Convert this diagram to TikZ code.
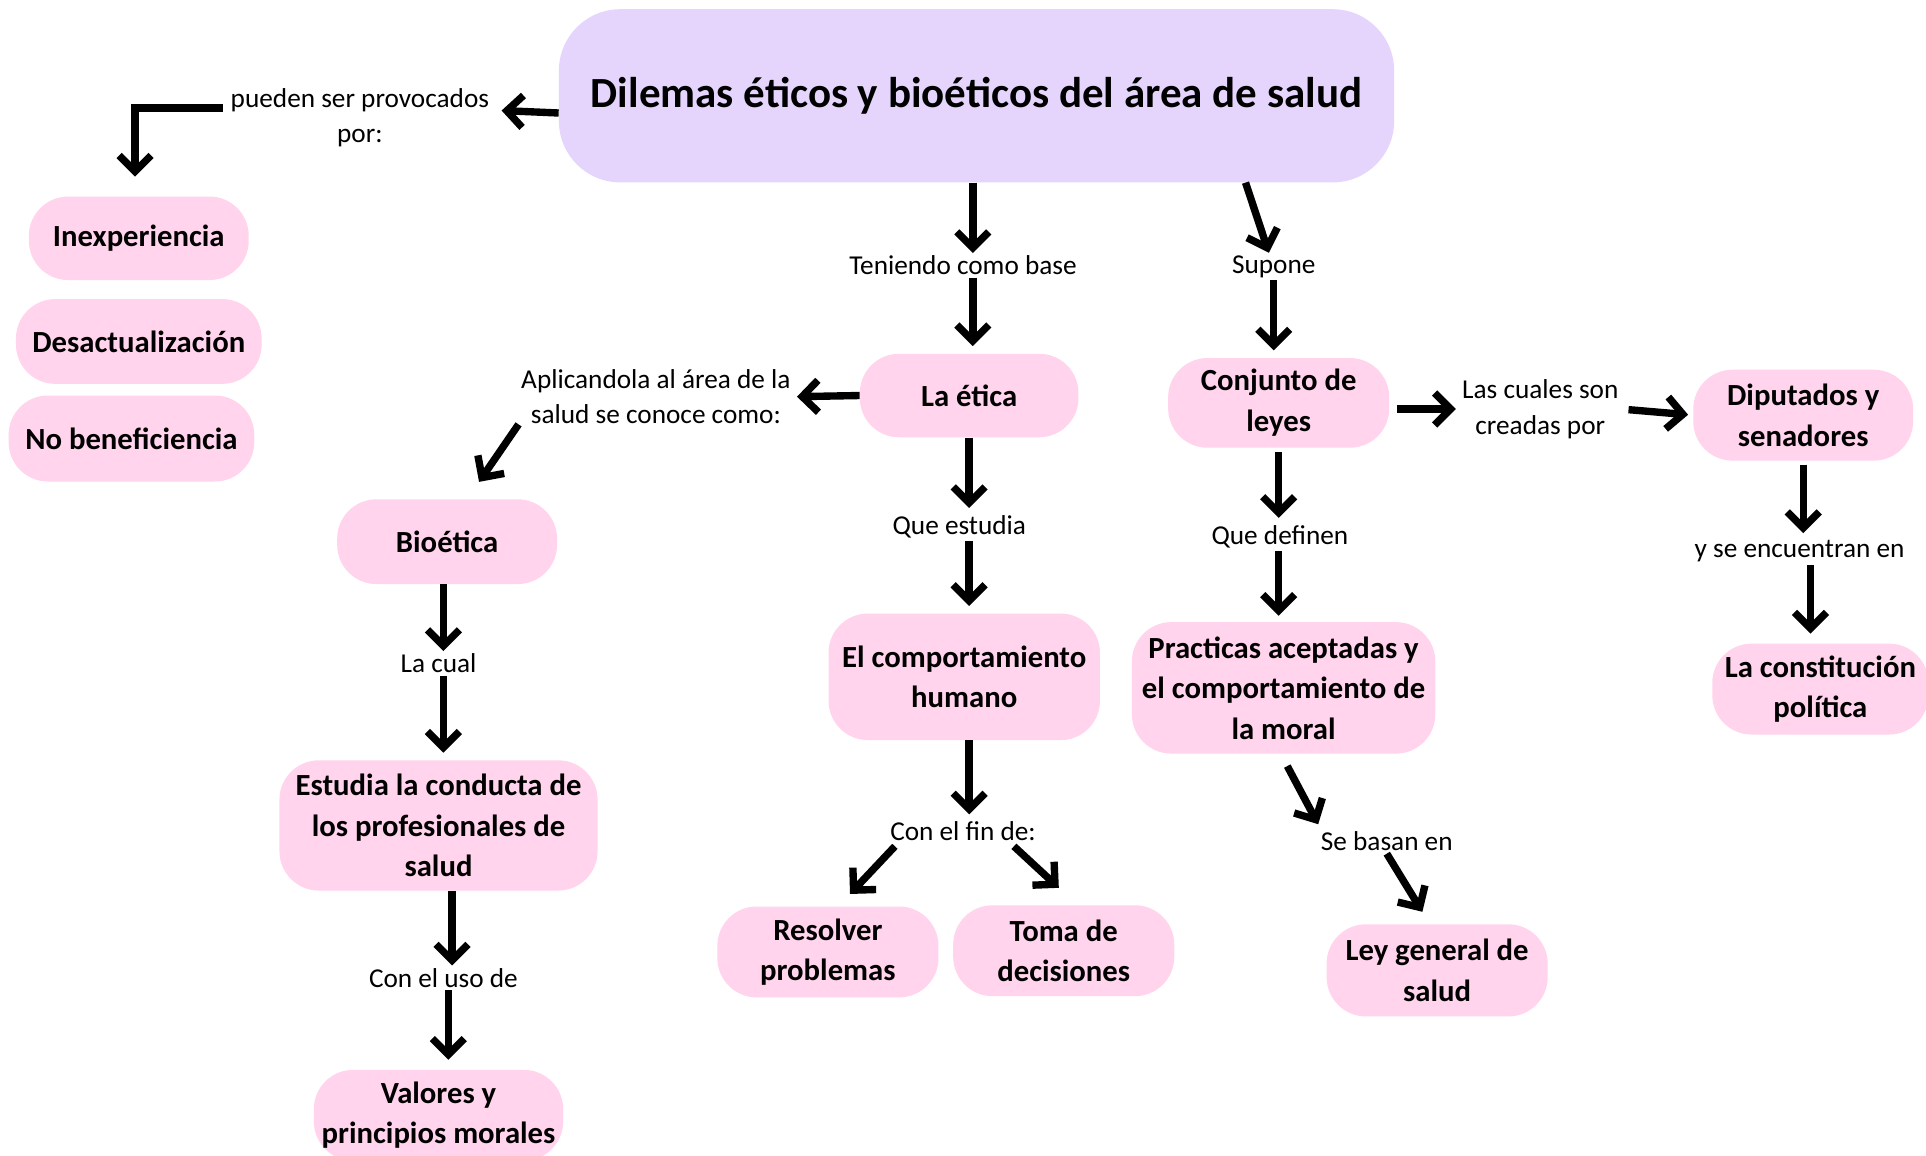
\documentclass[tikz,border=0pt]{standalone}
\usepackage{fontspec}
\setmainfont{Carlito}
\usetikzlibrary{arrows.meta,calc}
\definecolor{rosa}{HTML}{FFD4EC}
\definecolor{lila}{HTML}{E5D5FD}

\begin{document}
\begin{tikzpicture}[x=1pt,y=-1pt]
        \tikzstyle{box}=[fill=rosa, rounded corners=32pt, align=center, inner sep=2pt, font=\fontsize{25}{33}\selectfont\bfseries]
        \tikzstyle{lbl}=[align=center, inner sep=2pt, font=\fontsize{22.2}{29}\selectfont]
        \tikzstyle{arr}=[line width=6pt, -{Straight Barb[length=13pt,width=26pt]}]

        \path[use as bounding box, fill=white] (0,0) rectangle (1568,941);

        \node[box, fill=lila, rounded corners=50pt, minimum width=680pt, minimum height=141pt, font=\fontsize{35}{40}\selectfont\bfseries] (dil) at (795,78) {Dilemas éticos y bioéticos del área de salud};

        \node[box, minimum width=179pt, minimum height=68pt] (inexp)   at (113,194) {Inexperiencia};
        \node[box, minimum width=200pt, minimum height=69pt] (desact)  at (113,278) {Desactualización};
        \node[box, minimum width=200pt, minimum height=70pt] (nobenef) at (107,357) {No beneficiencia};

        \node[box, minimum width=178pt, minimum height=68pt]  (etica)   at (789,322) {La ética};
        \node[box, minimum width=179pt, minimum height=69pt]  (bioet)   at (364,441) {Bioética};
        \node[box, minimum width=259pt, minimum height=106pt] (estudia) at (357,672) {Estudia la conducta de\\los profesionales de\\salud};
        \node[box, minimum width=203pt, minimum height=74pt]  (valores) at (357,908) {Valores y\\principios morales};
        \node[box, minimum width=221pt, minimum height=103pt] (comport) at (785,551) {El comportamiento\\humano};
        \node[box, minimum width=180pt, minimum height=74pt]  (resolver) at (674,775) {Resolver\\problemas};
        \node[box, minimum width=180pt, minimum height=74pt]  (toma)    at (866,774) {Toma de\\decisiones};

        \node[box, minimum width=180pt, minimum height=73pt]  (leyes)   at (1041,328) {Conjunto de\\leyes};
        \node[box, minimum width=179pt, minimum height=74pt]  (diput)   at (1468,338) {Diputados y\\senadores};
        \node[box, minimum width=176pt, minimum height=74pt]  (constit) at (1482,561) {La constitución\\política};
        \node[box, minimum width=247pt, minimum height=107pt] (practicas) at (1045,560) {Practicas aceptadas y\\el comportamiento de\\la moral};
        \node[box, minimum width=180pt, minimum height=75pt]  (ley)     at (1170,790) {Ley general de\\salud};

        \node[lbl] (prov)   at (293,96)   {pueden ser provocados\\por:};
        \node[lbl] (base)   at (784,216)  {Teniendo como base};
        \node[lbl] (aplic)  at (534,323)  {Aplicandola al área de la\\salud se conoce como:};
        \node[lbl] (cual)   at (357,540)  {La cual};
        \node[lbl] (uso)    at (361,796)  {Con el uso de};
        \node[lbl] (quest)  at (781,429)  {Que estudia};
        \node[lbl] (fin)    at (784,677)  {Con el fin de:};
        \node[lbl] (supone) at (1037,217) {Supone};
        \node[lbl] (cuales) at (1254,333) {Las cuales son\\creadas por};
        \node[lbl] (encuen) at (1465,449) {y se encuentran en};
        \node[lbl] (defin)  at (1042,437) {Que definen};
        \node[lbl] (basan)  at (1129,685) {Se basan en};

        \draw[arr] ([yshift=-14pt]dil.west) -- ($(prov.east)+(8,-6)$);
        \draw[arr] ($(prov.west)+(-4,-8)$) -| ($(inexp.north)+(-3,-16)$);

        \draw[arr] ([xshift=-3pt]dil.south) -- ([xshift=8pt]base.north);
        \draw[arr, shorten >=6pt] ([xshift=8pt]base.south) -- ([xshift=3pt]etica.north);
        \draw[arr, shorten >=3pt] (etica.west) -- (aplic.east);
        \draw[arr] ($(aplic.south west)+(0,-2)$) -- ($(bioet.north)+(26,-14)$);
        \draw[arr] ([xshift=-3pt]bioet.south) -- ([xshift=-3pt]bioet.south |- cual.north);
        \draw[arr, shorten >=6pt] ([xshift=4pt]cual.south) -- ([xshift=4pt]cual.south |- estudia.north);
        \draw[arr] ([xshift=11pt]estudia.south) -- ([xshift=11pt]estudia.south |- uso.north);
        \draw[arr, shorten >=8pt] ([xshift=4pt]uso.south) -- ([xshift=4pt]uso.south |- valores.north);

        \draw[arr, shorten >=4pt] (etica.south) -- (etica.south |- quest.north);
        \draw[arr, shorten >=6pt] ([xshift=8pt]quest.south) -- ([xshift=8pt]quest.south |- comport.north);
        \draw[arr, shorten >=4pt] ([xshift=4pt]comport.south) -- ([xshift=4pt]comport.south |- fin.north);
        \draw[arr] ($(fin.south west)+(6,2)$) -- ($(resolver.north)+(18,-10)$);
        \draw[arr] ($(fin.south east)+(-20,2)$) -- ($(toma.north)+(-4,-14)$);

        \draw[arr] ([xshift=219pt]dil.south) -- ([xshift=-4pt]supone.north);
        \draw[arr, shorten >=6pt] (supone.south) -- (supone.south |- leyes.north);
        \draw[arr, shorten <=6pt, shorten >=3pt] ([yshift=-5pt]leyes.east) -- (cuales.west);
        \draw[arr, shorten <=6pt, shorten >=4pt] (cuales.east) -- (diput.west);
        \draw[arr, shorten <=3pt, shorten >=4pt] (diput.south) -- (diput.south |- encuen.north);
        \draw[arr, shorten >=8pt] ([xshift=9pt]encuen.south) -- ([xshift=9pt]encuen.south |- constit.north);
        \draw[arr, shorten <=3pt, shorten >=4pt] (leyes.south) -- (leyes.south |- defin.north);
        \draw[arr, shorten >=5pt] ([xshift=-1pt]defin.south) -- ([xshift=-1pt]defin.south |- practicas.north);
        \draw[arr] ($(practicas.south)+(3,10)$) -- ($(basan.north west)+(0,-4)$);
        \draw[arr] (basan.south) -- ($(ley.north)+(-12,-10)$);
\end{tikzpicture}
\end{document}
